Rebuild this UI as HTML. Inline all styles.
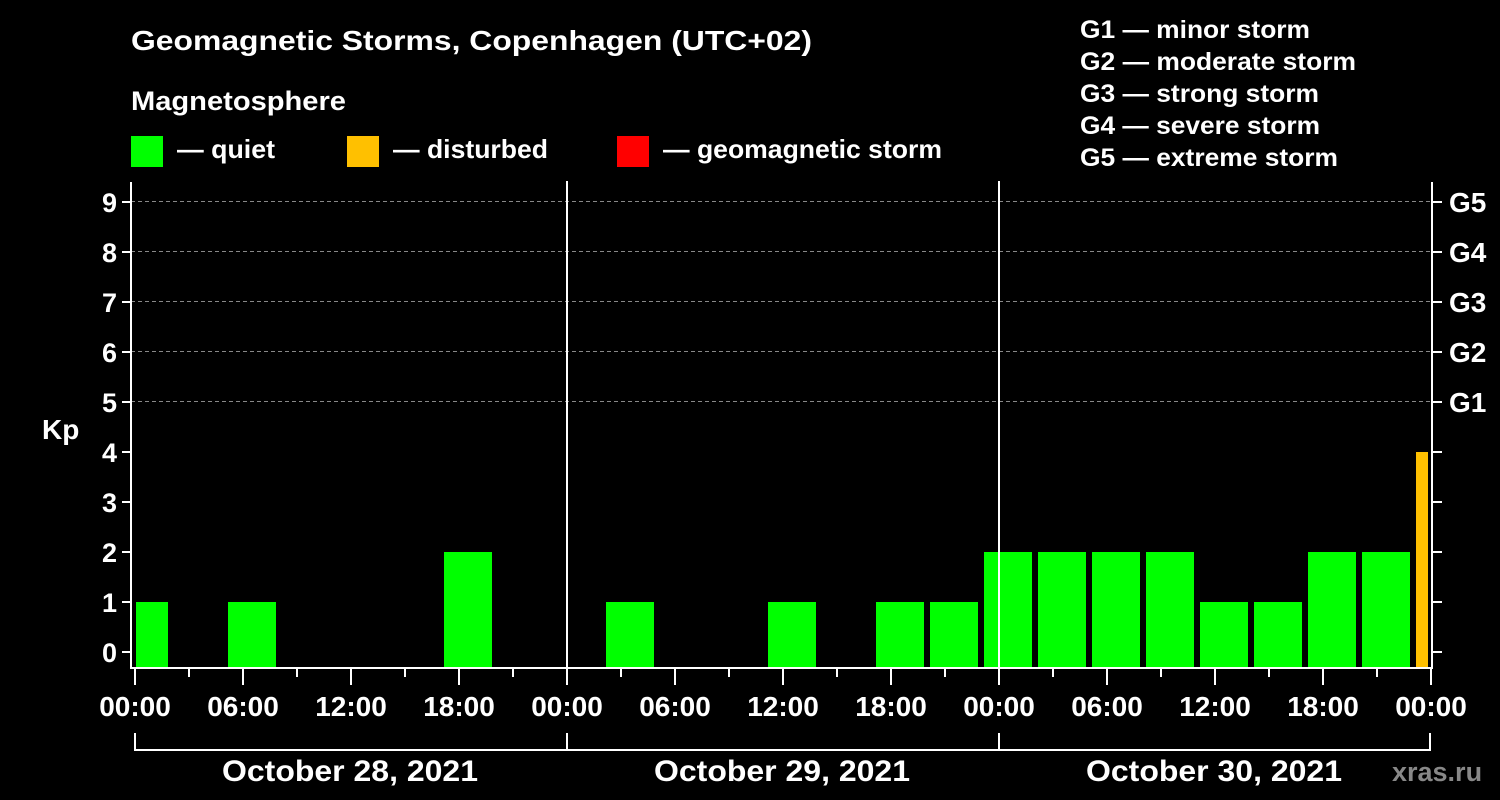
<!DOCTYPE html>
<html><head><style>body{margin:0;background:#000}svg{display:block}text{font-family:"Liberation Sans",Arial,sans-serif;font-weight:bold;fill:#fff}</style></head><body>
<svg width="1500" height="800" xmlns="http://www.w3.org/2000/svg">
<rect width="1500" height="800" fill="#000"/>
<text x="131" y="50" font-size="28" textLength="681" lengthAdjust="spacingAndGlyphs">Geomagnetic Storms, Copenhagen (UTC+02)</text>
<text x="131" y="110" font-size="27" textLength="215" lengthAdjust="spacingAndGlyphs">Magnetosphere</text>
<rect x="131" y="136" width="32" height="31" fill="#00ff00"/><text x="177" y="158" font-size="26" textLength="98" lengthAdjust="spacingAndGlyphs">— quiet</text>
<rect x="347" y="136" width="32" height="31" fill="#ffc000"/><text x="393" y="158" font-size="26" textLength="155" lengthAdjust="spacingAndGlyphs">— disturbed</text>
<rect x="617" y="136" width="32" height="31" fill="#ff0000"/><text x="663" y="158" font-size="26" textLength="279" lengthAdjust="spacingAndGlyphs">— geomagnetic storm</text>
<g font-size="25"><text x="1080" y="38" textLength="230" lengthAdjust="spacingAndGlyphs">G1 — minor storm</text><text x="1080" y="70" textLength="276" lengthAdjust="spacingAndGlyphs">G2 — moderate storm</text><text x="1080" y="102" textLength="239" lengthAdjust="spacingAndGlyphs">G3 — strong storm</text><text x="1080" y="134" textLength="240" lengthAdjust="spacingAndGlyphs">G4 — severe storm</text><text x="1080" y="166" textLength="258" lengthAdjust="spacingAndGlyphs">G5 — extreme storm</text></g>
<g stroke="#888" stroke-dasharray="4,3" stroke-width="1"><line x1="131" x2="1432" y1="201.5" y2="201.5"/><line x1="131" x2="1432" y1="251.5" y2="251.5"/><line x1="131" x2="1432" y1="301.5" y2="301.5"/><line x1="131" x2="1432" y1="351.5" y2="351.5"/><line x1="131" x2="1432" y1="401.5" y2="401.5"/></g>
<g fill="#00ff00">
<rect x="136" y="602" width="32" height="66"/>
<rect x="228" y="602" width="48" height="66"/>
<rect x="444" y="552" width="48" height="116"/>
<rect x="606" y="602" width="48" height="66"/>
<rect x="768" y="602" width="48" height="66"/>
<rect x="876" y="602" width="48" height="66"/>
<rect x="930" y="602" width="48" height="66"/>
<rect x="984" y="552" width="48" height="116"/>
<rect x="1038" y="552" width="48" height="116"/>
<rect x="1092" y="552" width="48" height="116"/>
<rect x="1146" y="552" width="48" height="116"/>
<rect x="1200" y="602" width="48" height="66"/>
<rect x="1254" y="602" width="48" height="66"/>
<rect x="1308" y="552" width="48" height="116"/>
<rect x="1362" y="552" width="48" height="116"/>
</g>
<rect x="1416" y="452" width="12" height="216" fill="#ffc000"/>
<g stroke="#fff" stroke-width="2" fill="none">
<line x1="131" y1="182" x2="131" y2="669"/>
<line x1="1432" y1="182" x2="1432" y2="669"/>
<line x1="130" y1="668" x2="1433" y2="668"/>
<line x1="567" y1="181" x2="567" y2="668"/>
<line x1="999" y1="181" x2="999" y2="668"/>
<path d="M135 733V750H1430V733M567 733V750M999 733V750"/>
</g>
<g stroke="#fff" stroke-width="2">
<line x1="122" x2="131" y1="652" y2="652"/><line x1="122" x2="131" y1="602" y2="602"/><line x1="122" x2="131" y1="552" y2="552"/><line x1="122" x2="131" y1="502" y2="502"/><line x1="122" x2="131" y1="452" y2="452"/><line x1="122" x2="131" y1="402" y2="402"/><line x1="122" x2="131" y1="352" y2="352"/><line x1="122" x2="131" y1="302" y2="302"/><line x1="122" x2="131" y1="252" y2="252"/><line x1="122" x2="131" y1="202" y2="202"/>
<line x1="1432" x2="1442" y1="652" y2="652"/><line x1="1432" x2="1442" y1="602" y2="602"/><line x1="1432" x2="1442" y1="552" y2="552"/><line x1="1432" x2="1442" y1="502" y2="502"/><line x1="1432" x2="1442" y1="452" y2="452"/><line x1="1432" x2="1442" y1="402" y2="402"/><line x1="1432" x2="1442" y1="352" y2="352"/><line x1="1432" x2="1442" y1="302" y2="302"/><line x1="1432" x2="1442" y1="252" y2="252"/><line x1="1432" x2="1442" y1="202" y2="202"/>
</g>
<g font-size="27" text-anchor="end"><text x="117" y="662">0</text><text x="117" y="612">1</text><text x="117" y="562">2</text><text x="117" y="512">3</text><text x="117" y="462">4</text><text x="117" y="412">5</text><text x="117" y="362">6</text><text x="117" y="312">7</text><text x="117" y="262">8</text><text x="117" y="212">9</text></g>
<text x="42" y="439" font-size="28">Kp</text>
<g font-size="28"><text x="1449" y="412">G1</text><text x="1449" y="362">G2</text><text x="1449" y="312">G3</text><text x="1449" y="262">G4</text><text x="1449" y="212">G5</text></g>
<g stroke="#fff" stroke-width="2">
<line x1="135" x2="135" y1="668" y2="685"/><line x1="243" x2="243" y1="668" y2="685"/><line x1="351" x2="351" y1="668" y2="685"/><line x1="459" x2="459" y1="668" y2="685"/><line x1="567" x2="567" y1="668" y2="685"/><line x1="675" x2="675" y1="668" y2="685"/><line x1="783" x2="783" y1="668" y2="685"/><line x1="891" x2="891" y1="668" y2="685"/><line x1="999" x2="999" y1="668" y2="685"/><line x1="1107" x2="1107" y1="668" y2="685"/><line x1="1215" x2="1215" y1="668" y2="685"/><line x1="1323" x2="1323" y1="668" y2="685"/><line x1="1431" x2="1431" y1="668" y2="685"/>
<line x1="189" x2="189" y1="668" y2="677"/><line x1="297" x2="297" y1="668" y2="677"/><line x1="405" x2="405" y1="668" y2="677"/><line x1="513" x2="513" y1="668" y2="677"/><line x1="621" x2="621" y1="668" y2="677"/><line x1="729" x2="729" y1="668" y2="677"/><line x1="837" x2="837" y1="668" y2="677"/><line x1="945" x2="945" y1="668" y2="677"/><line x1="1053" x2="1053" y1="668" y2="677"/><line x1="1161" x2="1161" y1="668" y2="677"/><line x1="1269" x2="1269" y1="668" y2="677"/><line x1="1377" x2="1377" y1="668" y2="677"/>
</g>
<g font-size="28" text-anchor="middle"><text x="135" y="716">00:00</text><text x="243" y="716">06:00</text><text x="351" y="716">12:00</text><text x="459" y="716">18:00</text><text x="567" y="716">00:00</text><text x="675" y="716">06:00</text><text x="783" y="716">12:00</text><text x="891" y="716">18:00</text><text x="999" y="716">00:00</text><text x="1107" y="716">06:00</text><text x="1215" y="716">12:00</text><text x="1323" y="716">18:00</text><text x="1431" y="716">00:00</text>
<text x="350" y="781" font-size="30" textLength="256" lengthAdjust="spacingAndGlyphs">October 28, 2021</text><text x="782" y="781" font-size="30" textLength="256" lengthAdjust="spacingAndGlyphs">October 29, 2021</text><text x="1214" y="781" font-size="30" textLength="256" lengthAdjust="spacingAndGlyphs">October 30, 2021</text></g>
<text x="1392" y="781" font-size="27" style="fill:#888">xras.ru</text>
</svg>
</body></html>
